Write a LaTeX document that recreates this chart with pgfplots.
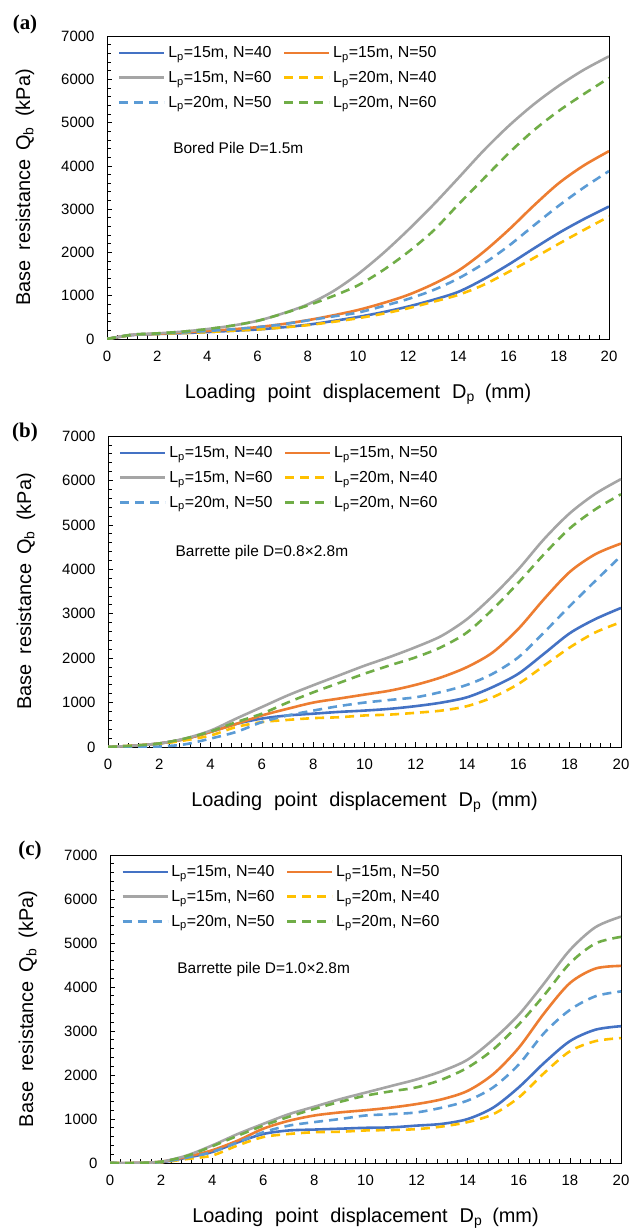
\documentclass[border=0pt]{standalone}
\usepackage{fontspec}
\setmainfont{Liberation Sans}
\newfontfamily\panelfont{Liberation Serif}
\usepackage{pgfplots}
\usepackage{pgfplotstable}
\pgfplotsset{compat=1.18}

\definecolor{cBlue}{HTML}{4472C4}
\definecolor{cOrange}{HTML}{ED7D31}
\definecolor{cGray}{HTML}{A5A5A5}
\definecolor{cYellow}{HTML}{FFC000}
\definecolor{cLBlue}{HTML}{5B9BD5}
\definecolor{cGreen}{HTML}{70AD47}

\pgfplotstableread{
x  b40  o50  g60  y40  lb50 gr60
0  0    0    0    0    0    0
1  90   95   100  90   95   100
2  115  120  130  115  120  130
3  135  150  170  135  150  170
4  160  185  230  160  185  230
5  190  225  310  190  225  310
6  220  275  420  220  275  420
7  270  345  590  265  340  585
8  330  435  800  320  430  775
9  415  545  1100 395  520  990
10 510  670  1500 480  610  1240
11 620  830  1980 585  760  1590
12 750  1020 2520 710  925  2010
13 905  1270 3100 860  1130 2500
14 1090 1580 3720 1020 1400 3110
15 1380 2010 4350 1250 1740 3700
16 1720 2520 4920 1550 2150 4290
17 2090 3080 5420 1870 2620 4820
18 2450 3600 5850 2200 3080 5270
19 2770 4010 6220 2520 3500 5660
20 3060 4340 6530 2830 3880 6030
}\dataA

\pgfplotstableread{
x  b40  o50  g60  y40  lb50 gr60
0  0    0    0    0    0    0
1  30   30   30   30   0    30
2  80   80   80   70   10   80
3  180  180  190  150  60   190
4  340  340  370  260  190  350
5  520  520  640  450  340  560
6  640  710  900  560  560  750
7  710  860  1160 610  710  1000
8  750  1000 1390 650  820  1230
9  790  1090 1610 670  920  1440
10 820  1180 1830 710  1000 1650
11 860  1270 2030 730  1060 1840
12 920  1400 2250 770  1120 2020
13 1000 1570 2500 820  1240 2250
14 1120 1800 2880 920  1400 2580
15 1350 2130 3400 1120 1650 3100
16 1650 2660 4000 1420 2020 3700
17 2100 3330 4680 1830 2580 4340
18 2560 3940 5260 2240 3170 4920
19 2880 4340 5700 2580 3740 5350
20 3130 4580 6030 2810 4300 5690
}\dataB

\pgfplotstableread{
x  b40  o50  g60  y40  lb50 gr60
0  0    0    0    0    0    0
1  0    0    0    0    0    0
2  20   30   30   15   20   30
3  120  140  170  90   120  160
4  250  290  400  170  250  380
5  470  510  660  400  470  620
6  660  780  890  590  700  850
7  740  960  1110 660  850  1050
8  760  1080 1280 700  930  1230
9  780  1150 1450 710  1000 1390
10 800  1200 1600 740  1080 1530
11 810  1260 1750 750  1110 1630
12 850  1340 1900 770  1150 1720
13 890  1450 2090 830  1260 1900
14 1000 1640 2350 930  1420 2170
15 1260 2020 2810 1110 1720 2580
16 1720 2620 3370 1490 2240 3150
17 2280 3410 4090 2050 2960 3820
18 2770 4090 4840 2540 3480 4540
19 3030 4420 5360 2770 3790 4990
20 3110 4480 5600 2840 3900 5140
}\dataC

\pgfplotsset{
  panel/.style={
    scale only axis,
    xmin=0, xmax=20, ymin=0, ymax=7000,
    xtick={0,2,...,20}, ytick={0,1000,...,7000},
    minor x tick num=4, minor y tick num=4,
    tick pos=left, tick align=inside,
    major tick length=5bp, minor tick length=4bp,
    every tick/.style={black, line width=0.7bp},
    axis line style={black, line width=0.9bp},
    tick label style={font=\fontsize{15}{15}\selectfont},
    /pgf/number format/assume math mode=true,
    /pgf/number format/1000 sep={},
    scaled ticks=false,
    xticklabel style={yshift=-9bp},
    yticklabel style={xshift=-9bp},
    xlabel={Loading\hspace{0.6em}point\hspace{0.6em}displacement\hspace{0.6em}D\textsubscript{p}\hspace{0.5em}(mm)},
    ylabel={Base\hspace{0.5em}resistance\hspace{0.45em}Q\textsubscript{b}\hspace{0.5em}(kPa)},
    label style={font=\fontsize{20}{20}\selectfont},
    xlabel style={at={([yshift=-55bp]rel axis cs:0.5,0)}, anchor=center},
    ylabel style={at={([xshift=-82bp]rel axis cs:0,0.5)}, anchor=center},
    legend columns=2,
    legend cell align=left,
    legend image code/.code={\draw[##1] (0bp,0bp) -- (45bp,0bp);},
    legend style={draw=none, fill=none, at={(rel axis cs:0,1)}, anchor=north west,
      xshift=11bp, yshift=-8bp, inner sep=0pt,
      font=\fontsize{16}{16}\selectfont,
      nodes={inner sep=2.5bp},
      row sep=7bp,
      /tikz/every even column/.append style={column sep=9bp}},
  },
  sB/.style={cBlue, line width=2.6bp, smooth},
  sO/.style={cOrange, line width=2.6bp, smooth},
  sG/.style={cGray, line width=2.6bp, smooth},
  sY/.style={cYellow, line width=2.6bp, smooth, dash pattern=on 9bp off 6bp},
  sL/.style={cLBlue, line width=2.6bp, smooth, dash pattern=on 9bp off 6bp},
  sR/.style={cGreen, line width=2.6bp, smooth, dash pattern=on 9bp off 6bp},
}

\newcommand{\allplots}[1]{%
  \addplot[sB] table[x=x,y=b40]{#1};
  \addlegendentry{L\textsubscript{p}=15m, N=40}
  \addplot[sO] table[x=x,y=o50]{#1};
  \addlegendentry{L\textsubscript{p}=15m, N=50}
  \addplot[sG] table[x=x,y=g60]{#1};
  \addlegendentry{L\textsubscript{p}=15m, N=60}
  \addplot[sY] table[x=x,y=y40]{#1};
  \addlegendentry{L\textsubscript{p}=20m, N=40}
  \addplot[sL] table[x=x,y=lb50]{#1};
  \addlegendentry{L\textsubscript{p}=20m, N=50}
  \addplot[sR] table[x=x,y=gr60]{#1};
  \addlegendentry{L\textsubscript{p}=20m, N=60}
}

\begin{document}
\begin{tikzpicture}
\useasboundingbox (0bp,0bp) rectangle (632bp,-1228bp);

\begin{axis}[panel, at={(107bp,-339bp)}, anchor=south west, width=502bp, height=303bp,
  after end axis/.code={\node[font=\panelfont\bfseries\fontsize{21}{21}\selectfont] at ([xshift=-82bp,yshift=12bp]rel axis cs:0,1) {(a)};}]
\allplots{\dataA}
\node[anchor=west, font=\fontsize{15.5}{15.5}\selectfont] at (rel axis cs:0.125,0.63) {Bored Pile D=1.5m};
\end{axis}

\begin{axis}[panel, at={(108bp,-747bp)}, anchor=south west, width=513bp, height=311bp,
  after end axis/.code={\node[font=\panelfont\bfseries\fontsize{21}{21}\selectfont] at ([xshift=-83bp,yshift=4bp]rel axis cs:0,1) {(b)};}]
\allplots{\dataB}
\node[anchor=west, font=\fontsize{15.5}{15.5}\selectfont] at (rel axis cs:0.125,0.624) {Barrette pile D=0.8×2.8m};
\end{axis}

\begin{axis}[panel, at={(110bp,-1163bp)}, anchor=south west, width=511bp, height=308bp,
  after end axis/.code={\node[font=\panelfont\bfseries\fontsize{21}{21}\selectfont] at ([xshift=-80bp,yshift=5bp]rel axis cs:0,1) {(c)};}]
\allplots{\dataC}
\node[anchor=west, font=\fontsize{15.5}{15.5}\selectfont] at (rel axis cs:0.125,0.627) {Barrette pile D=1.0×2.8m};
\end{axis}
\end{tikzpicture}
\end{document}
